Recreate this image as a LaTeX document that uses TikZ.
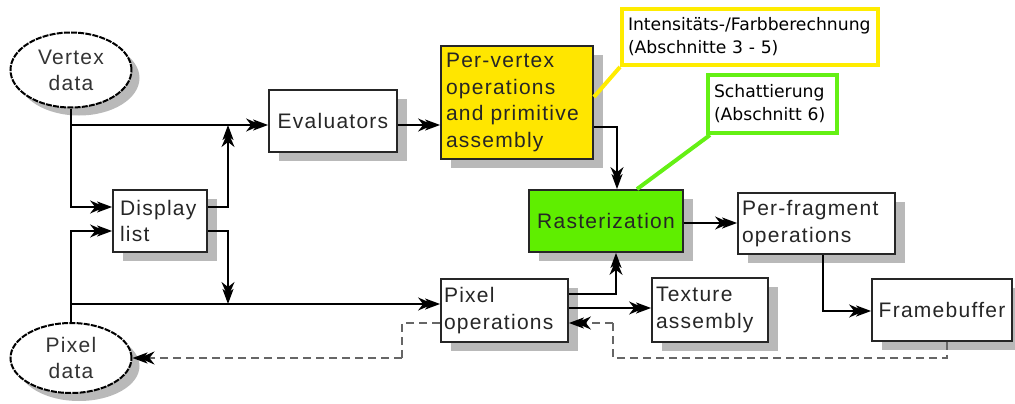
\documentclass[tikz,border=0pt]{standalone}
\usepackage{fontspec}
\setmainfont{Liberation Sans}
\newfontfamily\boxfont[LetterSpace=6]{Liberation Sans}
\newfontfamily\calfont{DejaVu Sans}
\usetikzlibrary{arrows.meta,shapes.geometric,shadows,calc}
\definecolor{boxyellow}{RGB}{255,230,0}
\definecolor{calyellow}{RGB}{255,236,0}
\definecolor{rastgreen}{RGB}{95,238,0}
\definecolor{calgreen}{RGB}{100,240,20}
\definecolor{shadowgray}{RGB}{185,185,185}
\begin{document}
\begin{tikzpicture}[x=1pt,y=-1pt,
  shadowed/.style={drop shadow={shadow xshift=10pt,shadow yshift=-9pt,fill=shadowgray,opacity=1}},
  box/.style={rectangle,draw=black!85,line width=1.8pt,fill=white,shadowed,
    font=\boxfont\fontsize{21}{26.5}\selectfont,text=black!85,inner sep=0pt},
  lbox/.style={box,align=left},
  oval/.style={ellipse,draw=black,line width=2pt,dash pattern=on 6pt off 1.2pt,fill=white,
    drop shadow={shadow xshift=8pt,shadow yshift=-8pt,fill=shadowgray,opacity=1},
    font=\boxfont\fontsize{21}{26}\selectfont,text=black!80,align=center,inner sep=0pt},
  callout/.style={rectangle,line width=4pt,fill=white,font=\calfont\fontsize{17.2}{23}\selectfont,
    align=left,inner sep=0pt,text=black},
  tip/.tip={Stealth[length=15pt,width=13pt,inset=5pt,sep=-8pt]Stealth[length=15pt,width=11pt,inset=4pt]},
  arr/.style={line width=1.8pt,-{tip}},
  dasharr/.style={draw=black!60,line width=1.8pt,dash pattern=on 8pt off 5pt,
    -{Stealth[length=15pt,width=13pt,inset=5pt,sep=-8pt,color=black]Stealth[length=15pt,width=11pt,inset=4pt,color=black]}},
  dashline/.style={draw=black!60,line width=1.8pt,dash pattern=on 8pt off 5pt},
  link/.style={line width=4pt}
]
\useasboundingbox (0,0) rectangle (1015,404);

% nodes
\node[oval,minimum width=121pt,minimum height=75pt] (vd) at (71,70) {Vertex\\data};
\node[oval,minimum width=121pt,minimum height=70pt] (pd) at (71,358) {Pixel\\data};
\node[box,minimum width=128pt,minimum height=62pt] (ev) at (333,121) {Evaluators};
\node[lbox,fill=boxyellow,minimum width=152pt,minimum height=113pt,text width=142pt] (pv) at (517,102.5)
  {Per-vertex\\operations\\and primitive\\assembly};
\node[lbox,minimum width=94pt,minimum height=62pt,text width=80pt] (dl) at (160,221) {Display\\list};
\node[box,fill=rastgreen,minimum width=154pt,minimum height=62pt] (ra) at (606,221) {Rasterization};
\node[lbox,minimum width=157pt,minimum height=61pt,text width=149pt] (pf) at (816.5,223.5) {Per-fragment\\operations};
\node[lbox,minimum width=127pt,minimum height=63pt,text width=121pt] (po) at (504.5,310.5) {Pixel\\operations};
\node[lbox,minimum width=116pt,minimum height=64pt,text width=108pt] (ta) at (710,310) {Texture\\assembly};
\node[box,minimum width=140pt,minimum height=62pt] (fb) at (942,310) {Framebuffer};

\node[callout,draw=calyellow,minimum width=256pt,minimum height=56pt,text width=244pt] (c1) at (750,37)
  {Intensitäts-/Farbberechnung\\(Abschnitte 3 - 5)};
\node[callout,draw=calgreen,minimum width=129pt,minimum height=58pt,text width=117pt] (c2) at (772.5,104)
  {Schattierung\\(Abschnitt 6)};

% helper coordinates
\coordinate (va) at (71,125);
\coordinate (vb) at (71,207);
\coordinate (ja) at (228,125);
\coordinate (jb) at (228,304);
\coordinate (pa) at (71,304);
\coordinate (pb) at (71,231);
\coordinate (ka) at (617,127);
\coordinate (kb) at (616,294);
\coordinate (fa) at (823,311);
\coordinate (da) at (947,358);
\coordinate (db) at (613,323);
\coordinate (ea) at (402,323);
\coordinate (eb) at (402,358);

% connectors
\draw[line width=1.8pt] (vd.south) -- (va);
\draw[arr] (va) |- (dl.west |- vb);
\draw[arr] (va) -- (ev.west |- va);
\draw[arr] (ev.east |- va) -- (pv.west |- va);
\draw[arr] (dl.east |- vb) -| (ja);
\draw[arr] (dl.east |- pb) -| (jb);
\draw[arr] (pd.north) |- (dl.west |- pb);
\draw[arr] (pa) -- (po.west |- pa);
\draw[arr] (pv.east |- ka) -| (ra.north -| ka);
\draw[arr] (ra.east |- 0,223) -- (pf.west |- 0,223);
\draw[arr] (pf.south -| fa) |- (fb.west |- fa);
\draw[arr] (po.east |- kb) -| (ra.south -| kb);
\draw[arr] (po.east |- 0,308) -- (ta.west |- 0,308);
\draw[dashline] (fb.south -| da) |- (db |- da) -- (db);
\draw[dasharr] (db) -- (po.east |- db);
\draw[dashline] (po.west |- ea) -- (ea) -- (eb);
\draw[dasharr] (eb) -- (pd.east);

% callout links
\draw[link,calyellow] (c1.south west) -- (pv.east |- 0,97);
\draw[link,calgreen] ($(c2.south west)+(4,0)$) -- (ra.north -| 637,0);
\end{tikzpicture}
\end{document}
